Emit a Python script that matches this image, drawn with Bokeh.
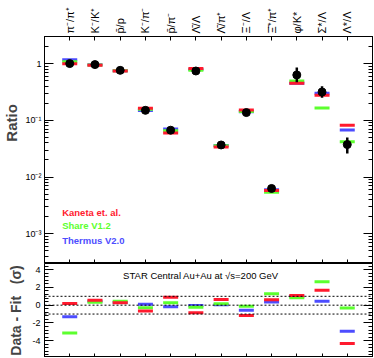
import numpy as np
from bokeh.plotting import figure
from bokeh.models import (FixedTicker, LogTicker, LinearAxis, LogAxis, Range1d, Span,
                          Label, CustomJSTickFormatter, SingleIntervalTicker, ColumnDataSource)
from bokeh.layouts import column
from bokeh.embed import file_html
from bokeh.resources import INLINE

# ---------------- data ----------------
positions = [1, 2, 3, 4, 5, 6, 7, 8, 9, 10, 11, 12]
categories = ["π⁻/π⁺", "K⁻/K⁺", "p\u0304/p", "K⁻/π⁻", "p\u0304/π⁻", "Λ\u0304/Λ",
              "Λ\u0304/π⁺", "Ξ⁻/Λ", "Ξ\u0304⁺/π⁺", "φ/K*", "Σ*/Λ", "Λ*/Λ"]

data_ratio = [1.0, 0.96, 0.76, 0.150, 0.067, 0.74, 0.0368, 0.137, 0.0063, 0.63, 0.316, 0.0374]
data_err_lo = [0.97, 0.94, 0.74, 0.145, 0.064, 0.71, 0.0350, 0.130, 0.0059, 0.47, 0.25, 0.026]
data_err_hi = [1.03, 0.98, 0.78, 0.155, 0.070, 0.77, 0.0386, 0.144, 0.0068, 0.85, 0.40, 0.050]

kaneta_ratio = [0.99, 0.93, 0.74, 0.163, 0.060, 0.816, 0.0339, 0.152, 0.0058, 0.45, 0.276, 0.0818]
share_ratio = [1.08, 0.94, 0.75, 0.157, 0.0654, 0.762, 0.0358, 0.143, 0.0054, 0.494, 0.165, 0.0421]
thermus_ratio = [1.17, 0.95, 0.75, 0.149, 0.0706, 0.79, 0.0360, 0.141, 0.0060, 0.45, 0.30, 0.0677]

kaneta_dev = [0.19, 0.55, 0.26, -0.67, 0.89, -0.85, 0.63, -1.15, 0.60, 1.10, 1.67, -4.33]
share_dev = [-3.15, 0.33, 0.44, -0.30, 0.26, -0.22, 0.15, -0.11, 1.30, 0.85, 2.63, -0.33]
thermus_dev = [-1.30, 0.45, 0.30, 0.10, -0.19, -0.04, 0.04, -0.56, 0.37, 1.00, 0.44, -2.93]

model_names = ["Kaneta et. al.", "Share V1.2", "Thermus V2.0"]
sigma_lines = [-1, 0, 1]
dev_ticks = [-4, -2, 0, 2, 4]

# ---------------- styles ----------------
RED = "#ff1a2e"
GREEN = "#5cff2e"
BLUE = "#4d4dff"
FONT = "Liberation Sans"
NB = "\u00a0"

def style_fig(p):
    p.background_fill_color = "white"
    p.border_fill_color = "white"
    p.outline_line_color = "black"
    p.outline_line_width = 1
    p.xgrid.visible = False
    p.ygrid.visible = False

def style_axis(ax, tick_in=8, minor_in=4, font_size="9px"):
    ax.axis_line_color = "black"
    ax.major_tick_in = tick_in
    ax.major_tick_out = 0
    ax.minor_tick_in = minor_in
    ax.minor_tick_out = 0
    ax.major_tick_line_color = "black"
    ax.minor_tick_line_color = "black"
    ax.major_label_text_font = FONT
    ax.major_label_text_font_size = font_size
    ax.major_label_text_color = "black"

def blank_axis(ax):
    ax.formatter = CustomJSTickFormatter(code="return '';")
    ax.major_label_text_font_size = "1px"
    ax.major_label_standoff = 0

sup_js = """
const e = Math.round(Math.log10(tick));
if (e == 0) { return "1"; }
const m = {"-":"⁻","0":"⁰","1":"¹","2":"²","3":"³","4":"⁴","5":"⁵","6":"⁶","7":"⁷","8":"⁸","9":"⁹"};
return "10" + String(e).split("").map(c => m[c]).join("");
"""

cat_ticker = FixedTicker(ticks=positions, minor_ticks=[])

# ---------------- upper panel ----------------
p1 = figure(width=374, height=263, x_range=Range1d(0, 13), y_range=Range1d(3e-4, 3),
            y_axis_type="log", x_axis_location="above",
            output_backend="svg", toolbar_location=None,
            min_border_left=41, min_border_right=2, min_border_top=36, min_border_bottom=0)
style_fig(p1)

top_ax = p1.xaxis[0]
top_ax.ticker = cat_ticker
top_ax.major_label_overrides = {pos: lab for pos, lab in zip(positions, categories)}
top_ax.major_label_orientation = "vertical"
style_axis(top_ax, tick_in=4, minor_in=0, font_size="11px")
top_ax.major_label_standoff = 3

bot_ax1 = LinearAxis(ticker=cat_ticker)
style_axis(bot_ax1, tick_in=4, minor_in=0)
blank_axis(bot_ax1)
p1.add_layout(bot_ax1, "below")

ly = p1.yaxis[0]
ly.ticker = LogTicker(num_minor_ticks=10)
ly.formatter = CustomJSTickFormatter(code=sup_js)
style_axis(ly, tick_in=9, minor_in=4, font_size="9px")
ly.major_label_standoff = 3
ly.axis_label = NB * 13 + "Ratio"
ly.axis_label_text_font = FONT
ly.axis_label_text_font_size = "15px"
ly.axis_label_text_font_style = "bold"
ly.axis_label_standoff = 2

ry = LogAxis(ticker=LogTicker(num_minor_ticks=10))
style_axis(ry, tick_in=9, minor_in=4)
blank_axis(ry)
p1.add_layout(ry, "right")

for vals, col in [(thermus_ratio, BLUE), (share_ratio, GREEN), (kaneta_ratio, RED)]:
    p1.scatter(positions, vals, marker="dash", size=15, line_width=3, line_color=col)

p1.segment(x0=positions, y0=data_err_lo, x1=positions, y1=data_err_hi,
           line_color="black", line_width=2.5)
p1.scatter(positions, data_ratio, marker="circle", size=8, fill_color="black", line_color="black")

legend_y = [0.0024, 0.00141, 0.00077]
for name, col, yy in zip(model_names, [RED, GREEN, BLUE], legend_y):
    p1.add_layout(Label(x=0.7, y=yy, text=name, text_color=col, text_font=FONT,
                        text_font_size="9.5px", text_font_style="bold", text_baseline="middle"))

# ---------------- lower panel ----------------
p2 = figure(width=374, height=94, x_range=p1.x_range, y_range=Range1d(-5.9, 4.7),
            output_backend="svg", toolbar_location=None,
            min_border_left=41, min_border_right=2, min_border_top=0, min_border_bottom=0)
style_fig(p2)

bx = p2.xaxis[0]
bx.ticker = cat_ticker
style_axis(bx, tick_in=4, minor_in=0)
blank_axis(bx)

ly2 = p2.yaxis[0]
ly2.ticker = SingleIntervalTicker(interval=2, num_minor_ticks=5)
style_axis(ly2, tick_in=9, minor_in=4, font_size="9px")
ly2.major_label_overrides = {t: str(t) for t in dev_ticks}
ly2.major_label_standoff = 4
ly2.axis_label = "Data - Fit" + NB * 3 + "(σ)"
ly2.axis_label_text_font = FONT
ly2.axis_label_text_font_size = "14px"
ly2.axis_label_text_font_style = "bold"
ly2.axis_label_standoff = 5

ry2 = LinearAxis(ticker=SingleIntervalTicker(interval=2, num_minor_ticks=5))
style_axis(ry2, tick_in=9, minor_in=4)
blank_axis(ry2)
p2.add_layout(ry2, "right")

for s in sigma_lines:
    p2.add_layout(Span(location=s, dimension="width", line_color="black",
                       line_width=1, line_dash="2 2"))

for vals, col in [(thermus_dev, BLUE), (share_dev, GREEN), (kaneta_dev, RED)]:
    p2.scatter(positions, vals, marker="dash", size=15, line_width=3, line_color=col)

p2.add_layout(Label(x=6.25, y=3.3, text="STAR Central Au+Au at  √s=200 GeV",
                    text_font=FONT, text_font_size="9.5px", text_align="center",
                    text_baseline="middle", text_color="black"))

layout = column(p1, p2, spacing=0)
open("out.html", "w").write(file_html(layout, INLINE))
